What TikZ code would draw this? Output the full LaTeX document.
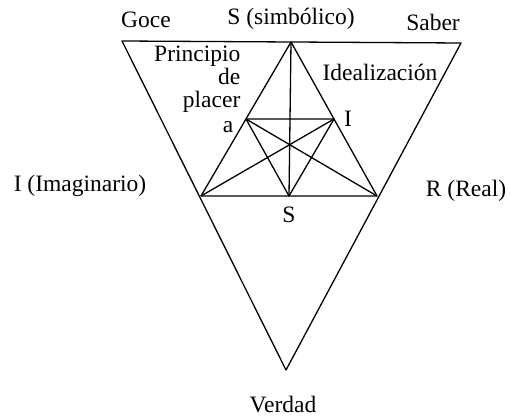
\documentclass[tikz,border=0pt]{standalone}
\usepackage{fontspec}
\setmainfont{Liberation Serif}
\usetikzlibrary{calc}

\begin{document}
\begin{tikzpicture}[x=1pt,y=-1pt,line width=1.3pt,line join=round,
    font=\fontsize{23.5}{26}\selectfont,
    lbl/.style={inner sep=0pt}]
  \useasboundingbox (0,0) rectangle (510,419);
  % outer triangle
  \coordinate (goce)   at (122,41);
  \coordinate (saber)  at (461,43);
  \coordinate (verdad) at (286,370);
  % inner triangle S - I - R
  \coordinate (simb) at (291,42);
  \coordinate (imag) at (201,196);
  \coordinate (real) at (377,196);
  \coordinate (pa) at ($(simb)!0.5!(imag)$);
  \coordinate (pi) at ($(simb)!0.5!(real)$);
  \coordinate (ps) at ($(imag)!0.5!(real)$);

  \draw (goce) -- (saber) -- (verdad) -- cycle;
  \draw (simb) -- (imag) -- (real) -- cycle;
  \draw (pa) -- (pi) -- (ps) -- cycle;
  \draw (simb) -- (ps);
  \draw (pa) -- (real);
  \draw (pi) -- (imag);

  \node[lbl] (tgoce)  at (146,20)  {Goce};
  \node[lbl] (tsimb)  at (291,19)  {S (simbólico)};
  \node[lbl] (tsaber) at (433,22)  {Saber};
  \node[lbl,align=right,anchor=north east,
        font=\fontsize{23.5}{23}\selectfont] (tplacer) at (241,45)
    {Principio\\de\\placer};
  \node[lbl] (ta)     at (228,127) {a};
  \node[lbl] (tideal) at (380,72)  {Idealización};
  \node[lbl] (ti)     at (348,119) {I};
  \node[lbl] (timag)  at (80,186)  {I (Imaginario)};
  \node[lbl] (treal)  at (466,191) {R (Real)};
  \node[lbl] (ts)     at (289,215) {S};
  \node[lbl] (tverd)  at (283,405) {Verdad};
\end{tikzpicture}
\end{document}
